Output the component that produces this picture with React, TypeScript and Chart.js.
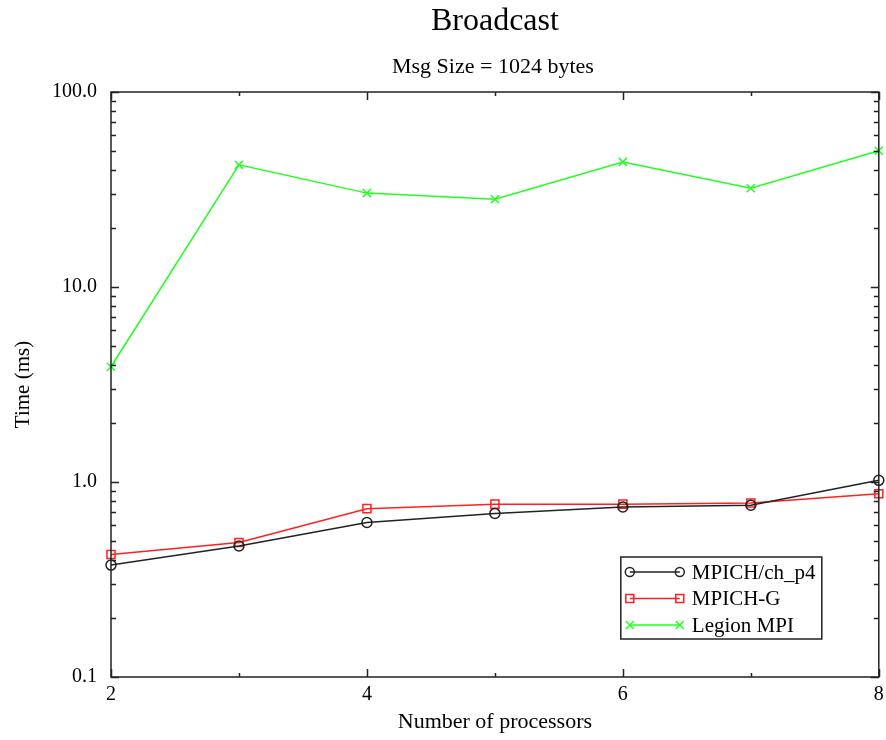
import React, { useEffect, useRef } from "react";
import { Chart, registerables } from "chart.js";

Chart.register(...registerables);

const titleText = "Broadcast";
const subtitleText = "Msg Size = 1024 bytes";
const xTitle = "Number of processors";
const yTitle = "Time (ms)";

const processors = [2, 3, 4, 5, 6, 7, 8];
const mpichP4 = [0.375, 0.47, 0.62, 0.69, 0.745, 0.76, 1.02];
const mpichG = [0.425, 0.49, 0.73, 0.77, 0.77, 0.78, 0.87];
const legionMPI = [3.9, 42.3, 30.3, 28.2, 43.8, 32.1, 50.0];

const seriesNames = ["MPICH/ch_p4", "MPICH-G", "Legion MPI"];
const seriesColors = ["#222222", "#ff2020", "#20ff20"];
const seriesMarkers = ["circle", "rect", "crossRot"];

const yMajorTicks = [0.1, 1, 10, 100];

const FONT = "'Liberation Serif', 'Times New Roman', serif";

function drawMarker(ctx: CanvasRenderingContext2D, kind: string, x: number, y: number, color: string) {
  ctx.save();
  ctx.strokeStyle = color;
  ctx.lineWidth = 1.5;
  ctx.beginPath();
  if (kind === "circle") {
    ctx.arc(x, y, 4.5, 0, Math.PI * 2);
  } else if (kind === "rect") {
    ctx.rect(x - 4, y - 4, 8, 8);
  } else {
    ctx.moveTo(x - 4, y - 4);
    ctx.lineTo(x + 4, y + 4);
    ctx.moveTo(x + 4, y - 4);
    ctx.lineTo(x - 4, y + 4);
  }
  ctx.stroke();
  ctx.restore();
}

const framePlugin = {
  id: "framePlugin",
  afterDatasetsDraw(chart: any) {
    const { ctx, chartArea, scales } = chart;
    const { left, right, top, bottom } = chartArea;
    const xs = scales.x;
    const ys = scales.y;
    ctx.save();
    ctx.strokeStyle = "#222";
    ctx.lineWidth = 1.5;
    ctx.strokeRect(left, top, right - left, bottom - top);

    // y ticks (log, inward, both sides)
    ctx.beginPath();
    for (let e = -1; e <= 2; e++) {
      for (let m = 1; m <= 9; m++) {
        const v = m * Math.pow(10, e);
        if (v < ys.min - 1e-9 || v > ys.max + 1e-9) continue;
        const py = Math.round(ys.getPixelForValue(v)) + 0.5;
        const len = m === 1 ? 8 : 5;
        ctx.moveTo(left, py);
        ctx.lineTo(left + len, py);
        ctx.moveTo(right, py);
        ctx.lineTo(right - len, py);
      }
    }
    // x ticks
    for (const p of processors) {
      const px = Math.round(xs.getPixelForValue(p)) + 0.5;
      const len = p % 2 === 0 ? 8 : 4;
      ctx.moveTo(px, bottom);
      ctx.lineTo(px, bottom - len);
      ctx.moveTo(px, top);
      ctx.lineTo(px, top + len);
    }
    ctx.stroke();

    // titles
    const cx = (left + right) / 2;
    ctx.fillStyle = "#000";
    ctx.textAlign = "center";
    ctx.textBaseline = "alphabetic";
    ctx.font = `32px ${FONT}`;
    ctx.fillText(titleText, cx, 30);
    ctx.font = `22px ${FONT}`;
    ctx.fillText(subtitleText, cx - 2, 73);

    // legend
    const lx = right - 258;
    const ly = bottom - 120;
    const lw = 201;
    const lh = 82;
    ctx.fillStyle = "#fff";
    ctx.fillRect(lx, ly, lw, lh);
    ctx.strokeStyle = "#222";
    ctx.lineWidth = 1.5;
    ctx.strokeRect(lx, ly, lw, lh);
    ctx.font = `21px ${FONT}`;
    ctx.textAlign = "left";
    ctx.textBaseline = "middle";
    seriesNames.forEach((name, i) => {
      const ry = ly + 15 + i * 26.5;
      const x1 = lx + 9;
      const x2 = lx + 59;
      ctx.strokeStyle = seriesColors[i];
      ctx.lineWidth = 1.5;
      ctx.beginPath();
      ctx.moveTo(x1, ry);
      ctx.lineTo(x2, ry);
      ctx.stroke();
      drawMarker(ctx, seriesMarkers[i], x1, ry, seriesColors[i]);
      drawMarker(ctx, seriesMarkers[i], x2, ry, seriesColors[i]);
      ctx.fillStyle = "#000";
      ctx.fillText(name, lx + 71, ry + 1);
    });
    ctx.restore();
  },
};

export default function App() {
  const ref = useRef<HTMLCanvasElement | null>(null);
  useEffect(() => {
    if (!ref.current) return;
    const series = [mpichP4, mpichG, legionMPI];
    const chart = new Chart(ref.current, {
      type: "line",
      data: {
        datasets: series.map((vals, i) => ({
          label: seriesNames[i],
          data: processors.map((p, j) => ({ x: p, y: vals[j] })),
          borderColor: seriesColors[i],
          backgroundColor: "rgba(0,0,0,0)",
          borderWidth: 1.5,
          pointStyle: seriesMarkers[i] as any,
          pointRadius: i === 0 ? 5 : 5.7,
          pointBorderWidth: 1.5,
          pointBorderColor: seriesColors[i],
          pointBackgroundColor: "rgba(0,0,0,0)",
          tension: 0,
          clip: false as any,
        })),
      },
      options: {
        responsive: false,
        animation: false,
        layout: { padding: { top: 92, right: 6, left: 0, bottom: 0 } },
        plugins: {
          legend: { display: false },
          tooltip: { enabled: false },
          title: { display: false },
        },
        scales: {
          x: {
            type: "linear",
            min: 2,
            max: 8,
            grid: { display: false, drawTicks: false },
            border: { display: false },
            ticks: {
              stepSize: 1,
              autoSkip: false,
              maxRotation: 0,
              padding: 6,
              color: "#000",
              font: { family: FONT, size: 20 },
              callback: (v: any) => (Number(v) % 2 === 0 ? String(v) : ""),
            },
            title: {
              display: true,
              text: xTitle,
              color: "#000",
              font: { family: FONT, size: 22 },
              padding: { top: 0, bottom: 5 },
            },
            afterFit: (s: any) => {
              s.height = 63;
              s.paddingLeft = 0;
              s.paddingRight = 0;
            },
          },
          y: {
            type: "logarithmic",
            min: 0.1,
            max: 100,
            grid: { display: false, drawTicks: false },
            border: { display: false },
            ticks: {
              autoSkip: false,
              padding: 14,
              color: "#000",
              font: { family: FONT, size: 20 },
              callback: (v: any) => {
                const n = Number(v);
                return yMajorTicks.some((t) => Math.abs(t - n) < 1e-9) ? n.toFixed(1) : "";
              },
            },
            title: {
              display: true,
              text: yTitle,
              color: "#000",
              font: { family: FONT, size: 21 },
              padding: { top: 11, bottom: 0 },
            },
            afterFit: (s: any) => {
              s.width = 111;
              s.paddingTop = 0;
              s.paddingBottom = 0;
            },
          },
        },
      },
      plugins: [framePlugin],
    });
    return () => chart.destroy();
  }, []);
  return (
    <div style={{ position: "absolute", left: 0, top: 0, width: 886, height: 740, background: "#fff" }}>
      <canvas ref={ref} width={886} height={740} style={{ display: "block" }} />
    </div>
  );
}
